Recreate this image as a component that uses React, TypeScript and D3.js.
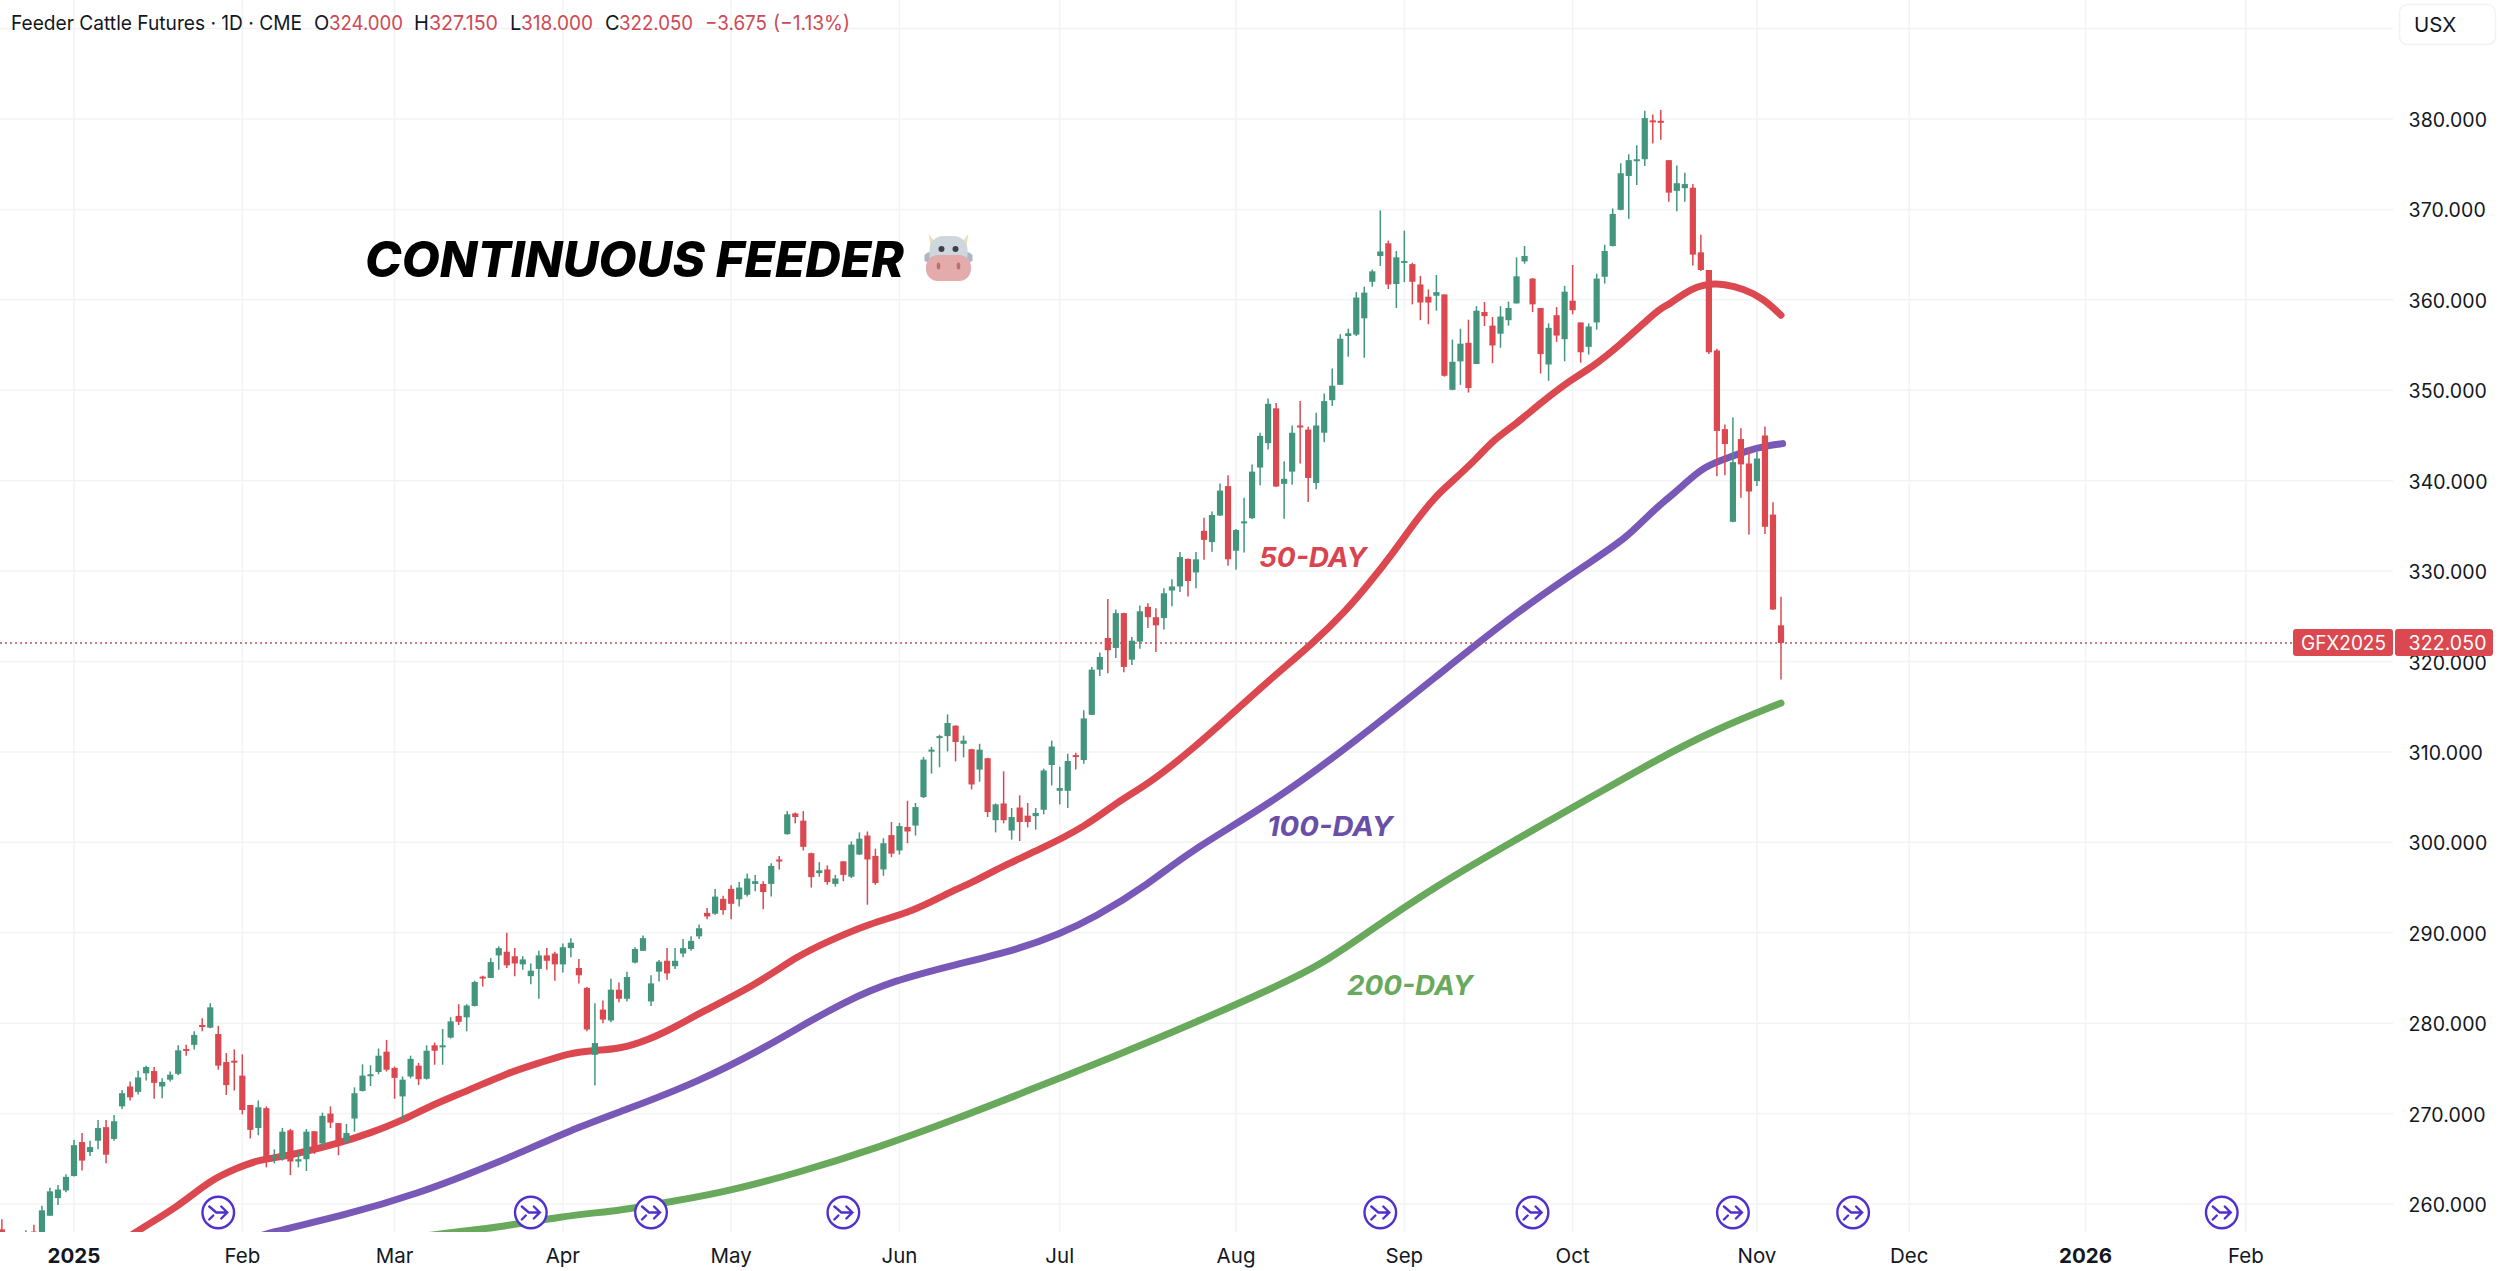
import React from "react";
import * as d3 from "d3";

const firstBar = -9;
const opens = [
257.2,255.5,254.5,255.6,256.95,256.6,258.7,260.65,261.5,263.1,
266.85,265.75,267,268.5,267.2,270.8,273,272.4,274.45,274.7,
273,273.75,274.4,277.15,277.6,279.8,279.5,278.8,275.7,275.85,
274.2,270.95,268.4,270.6,265.05,265.05,268.15,264.7,264.95,268.05,
266.7,270,268.95,266.9,269.45,272.5,274.3,274.6,276.85,275.05,
271.9,274.1,275.3,273.85,277.55,277.45,278.4,280.8,280.65,281.9,
285.15,285,287.5,287.9,287.4,286.5,285.2,286,287.5,287.7,
286.5,288.3,286.1,283.9,276.5,281.5,280.3,283.7,282.7,286.7,
288,282.4,285.7,286.9,286.3,287.7,288.2,289.6,292.2,292.1,
293.75,294.85,293.7,294.2,295.4,295.4,295.4,298.1,300.9,303.2,
302.4,298.8,296.6,297,295.4,297.9,296.2,298.65,300.75,298.5,
297,300.8,299.1,301.7,301.85,305,310.05,311.65,311.75,312.9,
310.9,310.3,308.05,309.3,302.45,304.3,301.3,303.85,302.95,302.9,
303.6,308.55,305.7,305.7,309.65,309.1,314.1,319.1,322.6,321.5,
325.35,320.2,322.2,326.05,324.9,324.8,327.85,328.3,331.35,329.85,
334.45,333.2,336.15,339.4,332.25,335.35,335.85,341.45,344.15,348,
339.65,341,346.1,345.65,339.75,345.3,348.9,350.6,356,356.15,
357.95,362,364.85,366.25,361.75,364.2,363.95,361.7,360.35,360.45,
360.6,350.05,353.2,355.25,352.9,358.65,357.15,356.25,357.75,359.6,
364.25,362.35,359.1,352.85,358.3,355.65,359.9,357.5,354.8,357.5,
362.55,365.95,369.95,373.7,375.4,375.55,379.85,379.8,375.45,372.05,
372.35,372.4,365.25,363.3,354.4,345.7,335.45,344.6,341.9,339.95,
345,336.25,324];
const highs = [
258.3,256.4,255.9,257.1,257.7,259.8,261.8,262.1,263.3,267.1,
267.85,267,269.3,269.3,269.85,272.6,273.55,274.75,275.3,275.15,
273.9,274.65,277.55,277.6,279.1,280.55,282.2,279.7,276.7,277.1,
276.55,270.95,271.45,270.8,266.05,268.4,268.3,265.8,268.3,268.05,
270.1,270.8,268.95,268.85,272.9,275.45,275.35,277.2,278.15,275.2,
274.1,276.4,275.6,277.55,277.85,279.35,280.65,282.1,282.1,284.7,
285.25,287.2,288.5,290,288.3,287.4,286.6,288,288.3,287.9,
288.8,289.4,287.1,284,282.2,282.5,284.9,284.5,285.7,288.4,
289.7,285.3,287,288.3,288.3,289.3,289.6,290.9,292.75,294.85,
294.1,295.25,295.6,296.55,296.4,295.7,297.7,298.5,303.45,303.3,
303.45,298.85,297.8,297.45,296.4,297.9,300.1,301.1,301.2,299.3,
300.45,302.25,302.15,304.6,304.35,309.45,310.55,311.9,314.15,312.95,
311.8,310.35,310.9,309.35,304.3,307.85,303.8,305.2,304.35,303.8,
308.15,311.25,308.35,309.8,309.9,314.6,319.4,321,326.9,325.75,
325.4,322.7,326.2,326.45,325.9,328.1,329.1,332.1,331.4,332.1,
335.9,336.6,339.7,340.6,334.65,338.1,341.8,345.3,349.1,348.6,
342.15,346.1,348.8,345.95,347.5,349.65,352.4,356.2,356.8,360.85,
361.45,363.35,369.9,366.55,365.4,367.65,364.1,362.65,361.15,362.75,
360.6,355.6,356.8,357.8,359.3,359.75,358.1,359.3,359.8,364.7,
365.95,362.4,359.1,357.4,359.2,361.55,363.85,357.5,357.4,362.9,
366.1,370.1,375.1,376.1,377.1,380.9,380.5,381,375.45,374.85,
374.05,372.8,367.2,363.3,354.6,346.2,347,345.8,343.55,343.2,
346,337.6,327.15];
const lows = [
255.9,254.8,253.9,255.2,255.5,256.4,258.7,259.9,261.3,263.05,
263.7,265.3,266.05,264.5,267,270.5,271.45,272.1,273.65,271.65,
271.7,273.55,274.25,276.4,277.1,279.1,279.45,274.85,272.05,272.55,
269.9,267.25,267.6,264.05,264.5,264.8,263.2,264.05,263.65,265.55,
266.35,268.4,265.4,266.7,268,272.45,273.05,274.35,274.65,271.65,
269.3,273.9,273.15,273.75,275.4,275.4,278.3,279.8,279.1,281.85,
284.05,285,285.9,286.1,285.2,285.9,284.3,282.7,285.9,284.7,
285.6,287.3,284.4,279.1,273.1,280,280.1,282.3,282.4,286.6,
288,281.9,284.6,284.8,286,287.3,288,289.3,291.5,292,
292,291.5,292.9,294,294.6,292.6,294,297,300.85,302.1,
299.1,295,296.2,295.3,295.1,295.7,296.05,298.6,293.1,295.3,
296.3,298.35,298.65,299.9,300.75,304.9,307.6,308.3,310.05,308.95,
309.4,305.85,306.7,302.8,301.1,302.1,300.3,300.15,301.65,301.4,
303.1,306.3,304.2,303.8,308.05,308.7,314.1,318.4,318.7,320.4,
318.8,319.6,321.4,323.7,321.05,323.55,326.1,327.7,327.2,328.1,
331.25,332.15,336.1,330.6,330.15,332.05,335.75,339.5,343.45,339.3,
335.8,339.55,341.9,337.65,339.05,344.25,348.25,350.6,353.7,356,
353.6,361.45,363.75,361.2,359.1,361.95,359.5,357.75,357.3,358.8,
351.5,350,350.6,349.75,352.9,357.1,353,354.7,357.15,359.6,
364,358.65,351.85,351.05,355.35,353.2,358.4,353.05,353.95,356.7,
361.8,365.9,369.9,368.95,372.7,374.8,377.3,377.7,370.85,369.8,
370.85,363.8,363.2,354,340.5,340.6,335.4,338.1,334.05,339.4,
334.1,325.7,318];
const closes = [
256.4,255,255.3,256.6,255.9,259.3,261.4,261.6,263,266.5,
264.8,266.3,268.4,265.45,269.15,272.25,271.8,274,275.15,273.4,
273.5,274.3,277,277.05,278.7,279.7,281.75,275.3,273.15,275.7,
270.4,268.2,270.7,265.05,265.3,268,264.7,264.95,268,265.8,
269.75,269,266.7,267.85,272.25,274.2,274.35,276.4,274.85,273.95,
273.75,276.05,273.8,276.95,276.95,277.55,280.2,280.15,281.95,284.55,
285.05,286.75,288.3,286.4,286.6,287.05,285.8,287.5,286.9,286.5,
288.4,288.9,285.3,279.3,277.8,280.4,283.7,282.7,285.1,288.2,
289.4,284.4,286.8,285.5,286.9,288.3,289.1,290.5,291.8,294,
292.5,293.2,295,296,295.7,294.5,297.4,298,303.1,302.8,
299.5,296.15,296.9,295.6,296,296.4,299.75,300.4,298.1,295.5,
299.9,298.75,301.8,301.2,303.9,309.15,310.25,311.75,313.2,311.1,
311.25,306.4,310.25,303.35,304.2,302.45,302.8,302.25,302.25,303.25,
307.95,310.6,306,309,309.5,313.7,319.1,320.5,321.25,325.35,
319.4,322.3,325.55,324.9,324,327.55,328.3,331.55,328.9,331.3,
333.45,336.2,338.9,331.3,334.55,335.5,341,344.95,348.5,339.35,
340.2,345.3,345.95,340.3,346.1,348.8,350.5,355.7,356.3,360.25,
360.8,363.15,365.35,361.7,364.7,364.3,362,359.7,359.7,360.85,
351.6,353.15,355.15,350.25,358.8,358.2,354.95,358.15,359.1,362.6,
364.85,359.5,354,356.9,356.05,360.9,358.85,354.2,357.05,362.35,
365.4,369.5,374,375.45,375.55,380.1,379.7,379.65,371.85,372.9,
372.8,365,363.3,354.2,345.5,344.05,342.05,341.8,338.8,342.45,
334.9,325.75,322.05];

const ma50Bars = [3,7.5,13,17,20.3,23,27,33,37,41,44.3,49.3,54.3,57.7,62,65,68,71.6,75.5,78,85.2,90.2,94.2,99.2,104.8,109,112,115.8,120.5,126.3,130,134.3,139,144,149,154.6,158.8,161.3,164.6,167.5,170,171.7,175,177.1,180,183,187,189.2,192.9,196.7,197.9,199.2,200.9,202.5,204.2,205.8,208.3,210.8,213,213];
const ma50Vals = [254,256.85,259.7,262.65,263.95,264.9,265.35,266.7,267.85,269.25,270.8,272.6,274.55,275.5,276.75,277,277.15,278.1,279.8,281.1,284.3,287.4,289.1,291,292.4,294.4,295.5,297.35,299.2,301.8,304.35,306.6,309.9,313.8,317.85,322,325.7,328.3,332,335.65,338.35,339.7,342.4,344.5,346.3,348.6,351.3,352.4,355,358.1,359,359.6,360.7,361.45,361.8,361.75,361.25,360.15,358.3,358.3];
const ma100Bars = [20,24.2,33.7,43.7,49.3,54.8,62,68.8,78,86.2,90.2,96.2,102.2,110.1,118,123,127.2,134.3,139,149.9,159.9,169.8,179.7,189.7,193.6,196.7,198.7,200.8,202.9,205,209.1,211.2,213.2,213.2];
const ma100Vals = [255.5,256.85,258.7,261.4,263.35,265.3,268.2,270.4,273.55,277.3,279.4,282.4,284.7,286.5,288.2,289.9,291.6,295.5,298.9,304.6,311.2,318.2,325.3,331.3,333.6,336.4,337.9,339.5,341.2,342.1,343.4,343.85,344.1,344.1];
const ma200Bars = [40,47,53.7,60.4,68.8,71.9,80.3,90.2,100.2,110.1,120.1,130,140,149.9,155.9,161.8,169.8,179.7,189.7,197.6,204.6,213,213];
const ma200Vals = [256,256.85,257.5,258.6,259.35,259.9,261.1,263.4,266.2,269.4,272.9,276.4,280.1,284,286.6,290.3,295.1,300.2,305.2,309.2,312.4,315.4,315.4];

const priceTicks = [380,370,360,350,340,330,320,310,300,290,280,270,260];
const gridPrices = [390,...priceTicks];
const monthBars = [0,21,40,61,82,103,123,145,166,187,210,229,251,271];
const monthLabels = ["2025","Feb","Mar","Apr","May","Jun","Jul","Aug","Sep","Oct","Nov","Dec","2026","Feb"];
const boldLabels = ["2025","2026"];
const eventBars = [18,57,72,96,163,182,207,222,268];
const lastPrice = 322.05;
const symbolTag = "GFX2025";

const RED = "#dc4850";
const GREEN = "#43967d";
const PURPLE = "#7859b8";
const MAGREEN = "#68a95c";
const GRID = "#f2f3f6";
const FONT = "Inter, sans-serif";
const PLOT_R = 2393;
const PLOT_B = 1232;

const x = d3.scaleLinear().domain([0, 213]).range([74, 1781]);
const y = d3.scaleLinear().domain([260, 380]).range([1204, 119]);

const maLine = (bars: number[], vals: number[]) =>
  d3.line<number>().x((b) => x(b)).y((_, i) => y(vals[i])).curve(d3.curveBasis)(bars) as string;

function CowFace() {
  return (
    <g transform="translate(948.5,258)" opacity={0.95}>
      <path d="M-20,-24 L-11,-13 L-17,-7 Z" fill="#eadfae" />
      <path d="M20,-24 L11,-13 L17,-7 Z" fill="#eadfae" />
      <path d="M-24,-3 Q-18,-9 -16,-3 L-17,6 L-24,3 Z" fill="#a9b4bf" />
      <path d="M24,-3 Q18,-9 16,-3 L17,6 L24,3 Z" fill="#a9b4bf" />
      <rect x={-19} y={-22} width={38} height={34} rx={14} fill="#ccd4dd" />
      <circle cx={-7} cy={-9} r={3} fill="#33363f" />
      <circle cx={7} cy={-9} r={3} fill="#33363f" />
      <rect x={-22.5} y={-3} width={45} height={26} rx={12} fill="#e2a7a7" />
      <ellipse cx={-10} cy={8} rx={1.8} ry={3.6} fill="#b56c62" />
      <ellipse cx={10} cy={8} rx={1.8} ry={3.6} fill="#b56c62" />
    </g>
  );
}

function EventIcon({ cx }: { cx: number }) {
  return (
    <g transform={`translate(${cx},1212.5)`} fill="none" stroke="#5130d0" strokeWidth={2.4} strokeLinecap="round">
      <circle r={15.8} fill="#fff" />
      <path d="M-9,-6 L-2,0 L9,0 M3,-6 L9,0 L3,6 M-9,7 L-5,3" />
    </g>
  );
}

const header: { s: string; x: number; c: string; w?: number }[] = [
  { s: "Feeder Cattle Futures · 1D · CME", x: 11, c: "#131722", w: 291 },
  { s: "O", x: 314, c: "#131722" },
  { s: "324.000", x: 329, c: "#cd4a55", w: 74 },
  { s: "H", x: 414, c: "#131722" },
  { s: "327.150", x: 429, c: "#cd4a55", w: 69 },
  { s: "L", x: 510, c: "#131722" },
  { s: "318.000", x: 521, c: "#cd4a55", w: 72 },
  { s: "C", x: 605, c: "#131722" },
  { s: "322.050", x: 619, c: "#cd4a55", w: 74 },
  { s: "−3.675", x: 705, c: "#cd4a55", w: 62 },
  { s: "(−1.13%)", x: 773, c: "#cd4a55", w: 77 },
];

export default function App() {
  return (
    <svg
      width={2500}
      height={1271}
      viewBox="0 0 2500 1271"
      style={{ position: "absolute", left: 0, top: 0, display: "block", background: "#fff", fontFamily: FONT }}
    >
      <defs>
        <clipPath id="plot">
          <rect x={0} y={0} width={PLOT_R} height={PLOT_B} />
        </clipPath>
      </defs>
      {monthBars.map((b, i) => (
        <line key={i} x1={x(b)} x2={x(b)} y1={0} y2={PLOT_B} stroke={GRID} strokeWidth={1.5} />
      ))}
      {gridPrices.map((p) => (
        <line key={p} x1={0} x2={PLOT_R} y1={y(p)} y2={y(p)} stroke={GRID} strokeWidth={1.5} />
      ))}
      <g clipPath="url(#plot)">
        <path d={maLine(ma200Bars, ma200Vals)} fill="none" stroke={MAGREEN} strokeWidth={7} strokeLinecap="round" />
        <path d={maLine(ma100Bars, ma100Vals)} fill="none" stroke={PURPLE} strokeWidth={7} strokeLinecap="round" />
        <path d={maLine(ma50Bars, ma50Vals)} fill="none" stroke={RED} strokeWidth={7} strokeLinecap="round" />
        <line x1={0} x2={2293} y1={y(lastPrice)} y2={y(lastPrice)} stroke="#b5535a" strokeWidth={1.6} strokeDasharray="2 3" />
        {opens.map((o, i) => {
          const c = closes[i];
          const bar = firstBar + i;
          const color = c >= o ? GREEN : RED;
          const top = y(Math.max(o, c));
          const h = Math.max(y(Math.min(o, c)) - top, 2);
          return (
            <g key={i}>
              <line x1={x(bar)} x2={x(bar)} y1={y(highs[i])} y2={y(lows[i])} stroke={color} strokeWidth={1.5} />
              <rect x={x(bar) - 3.1} y={top} width={6.2} height={h} fill={color} />
            </g>
          );
        })}
      </g>
      {eventBars.map((b) => (
        <EventIcon key={b} cx={x(b)} />
      ))}
      {priceTicks.map((p) => (
        <text key={p} x={2408.5} y={y(p) + 8} fontSize={19.5} fill="#131722" letterSpacing={0.1}>
          {d3.format(".3f")(p)}
        </text>
      ))}
      {monthLabels.map((m, i) => (
        <text
          key={i}
          x={x(monthBars[i])}
          y={1263}
          textAnchor="middle"
          fontSize={20.5}
          fontWeight={boldLabels.includes(m) ? 700 : 400}
          fill="#131722"
        >
          {m}
        </text>
      ))}
      {header.map((t, i) => (
        <text
          key={i}
          x={t.x}
          y={30}
          fontSize={20}
          fill={t.c}
          {...(t.w ? { textLength: t.w, lengthAdjust: "spacingAndGlyphs" } : {})}
        >
          {t.s}
        </text>
      ))}
      <rect x={2399.5} y={4.5} width={96} height={40} rx={8} fill="#fff" stroke="#f0f2f6" strokeWidth={1.5} />
      <text x={2414} y={32} fontSize={20.5} fill="#131722">USX</text>
      <rect x={2293} y={629} width={100} height={27} rx={3} fill={RED} />
      <rect x={2395} y={629} width={98} height={27} rx={3} fill={RED} />
      <text x={2301} y={650} fontSize={19.5} fill="#fff" textLength={85} lengthAdjust="spacingAndGlyphs">{symbolTag}</text>
      <text x={2408.5} y={650} fontSize={19.5} fill="#fff" letterSpacing={0.1}>{d3.format(".3f")(lastPrice)}</text>
      <text x={365} y={276.5} fontSize={50} fontWeight={800} fontStyle="italic" fill="#000" textLength={539} lengthAdjust="spacingAndGlyphs">
        CONTINUOUS FEEDER
      </text>
      <CowFace />
      <text x={1259} y={567} fontSize={27.5} fontWeight={700} fontStyle="italic" fill="#d9444e" textLength={108} lengthAdjust="spacingAndGlyphs">50-DAY</text>
      <text x={1267} y={836} fontSize={27.5} fontWeight={700} fontStyle="italic" fill="#6a4fa8" textLength={126} lengthAdjust="spacingAndGlyphs">100-DAY</text>
      <text x={1347} y={995} fontSize={27.5} fontWeight={700} fontStyle="italic" fill="#68a95c" textLength={126} lengthAdjust="spacingAndGlyphs">200-DAY</text>
    </svg>
  );
}
